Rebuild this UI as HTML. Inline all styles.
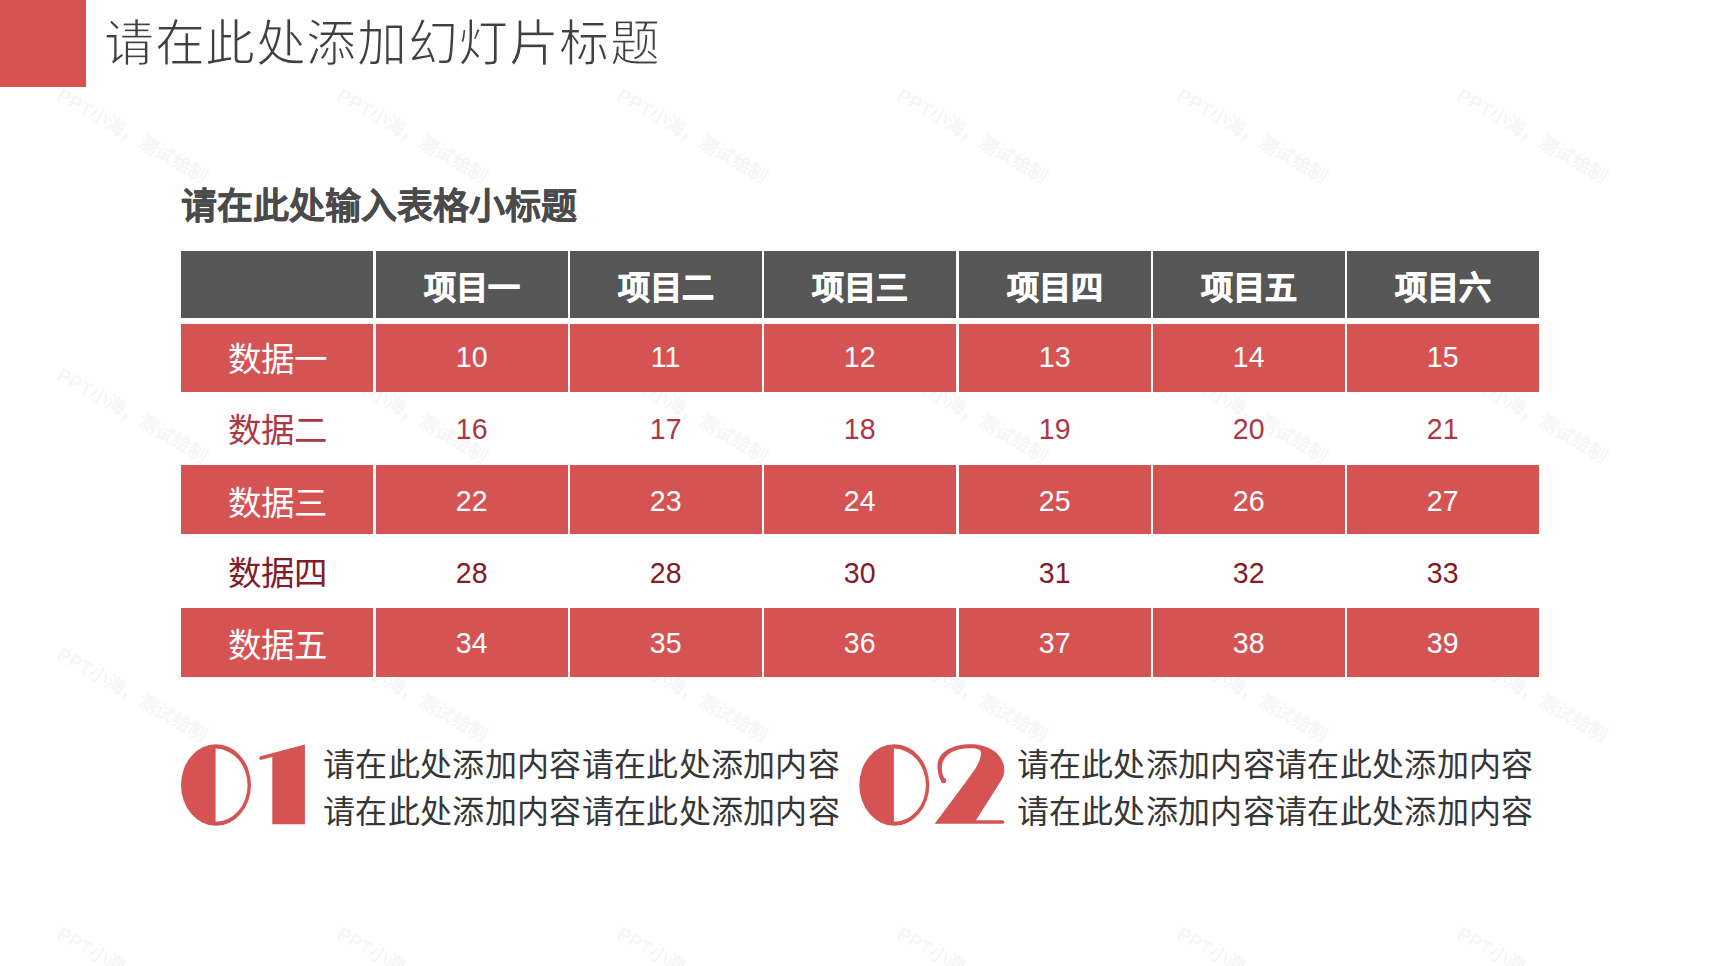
<!DOCTYPE html>
<html lang="zh-CN"><head><meta charset="utf-8">
<style>
:root { --red:#d65353; --gray:#575757; }
html,body { margin:0; padding:0; }
body { width:1720px; height:966px; position:relative; overflow:hidden; background:#fefefe; font-family:"Liberation Sans", sans-serif; }
.c { position:absolute; }
.t { position:absolute; display:flex; align-items:center; justify-content:center; white-space:nowrap; }
.hd { color:#fff; font-size:32px; font-weight:bold; -webkit-text-stroke:0.9px #fff; }
.lab { font-size:33.5px; transform:translateY(-1.5px); }
.num { font-size:30px; } .num span { display:inline-block; transform:scaleX(0.95); }
.w { color:#fff; }
.r2 { color:#ab3844; }
.r4 { color:#821c28; }
.abs { position:absolute; white-space:nowrap; line-height:1; }
</style></head><body>
<svg class="abs" style="left:0;top:0;pointer-events:none" width="1720" height="966"><g fill="rgba(0,0,0,0.055)" font-size="19" font-weight="bold" font-family="Liberation Sans, sans-serif"><text x="63.0" y="101.0" transform="rotate(30 63.0 86.0)">PPT小海，测试绘制</text><text x="343.0" y="101.0" transform="rotate(30 343.0 86.0)">PPT小海，测试绘制</text><text x="623.0" y="101.0" transform="rotate(30 623.0 86.0)">PPT小海，测试绘制</text><text x="903.0" y="101.0" transform="rotate(30 903.0 86.0)">PPT小海，测试绘制</text><text x="1183.0" y="101.0" transform="rotate(30 1183.0 86.0)">PPT小海，测试绘制</text><text x="1463.0" y="101.0" transform="rotate(30 1463.0 86.0)">PPT小海，测试绘制</text><text x="63.0" y="380.5" transform="rotate(30 63.0 365.5)">PPT小海，测试绘制</text><text x="343.0" y="380.5" transform="rotate(30 343.0 365.5)">PPT小海，测试绘制</text><text x="623.0" y="380.5" transform="rotate(30 623.0 365.5)">PPT小海，测试绘制</text><text x="903.0" y="380.5" transform="rotate(30 903.0 365.5)">PPT小海，测试绘制</text><text x="1183.0" y="380.5" transform="rotate(30 1183.0 365.5)">PPT小海，测试绘制</text><text x="1463.0" y="380.5" transform="rotate(30 1463.0 365.5)">PPT小海，测试绘制</text><text x="63.0" y="660.0" transform="rotate(30 63.0 645.0)">PPT小海，测试绘制</text><text x="343.0" y="660.0" transform="rotate(30 343.0 645.0)">PPT小海，测试绘制</text><text x="623.0" y="660.0" transform="rotate(30 623.0 645.0)">PPT小海，测试绘制</text><text x="903.0" y="660.0" transform="rotate(30 903.0 645.0)">PPT小海，测试绘制</text><text x="1183.0" y="660.0" transform="rotate(30 1183.0 645.0)">PPT小海，测试绘制</text><text x="1463.0" y="660.0" transform="rotate(30 1463.0 645.0)">PPT小海，测试绘制</text><text x="63.0" y="939.5" transform="rotate(30 63.0 924.5)">PPT小海，测试绘制</text><text x="343.0" y="939.5" transform="rotate(30 343.0 924.5)">PPT小海，测试绘制</text><text x="623.0" y="939.5" transform="rotate(30 623.0 924.5)">PPT小海，测试绘制</text><text x="903.0" y="939.5" transform="rotate(30 903.0 924.5)">PPT小海，测试绘制</text><text x="1183.0" y="939.5" transform="rotate(30 1183.0 924.5)">PPT小海，测试绘制</text><text x="1463.0" y="939.5" transform="rotate(30 1463.0 924.5)">PPT小海，测试绘制</text></g></svg>
<div class="abs" style="left:0;top:0;width:86px;height:87px;background:var(--red)"></div>
<div class="abs" id="title" style="left:104px;top:18.5px;font-size:50px;letter-spacing:0.6px;color:#404040;-webkit-text-stroke:1.2px #fefefe;">请在此处添加幻灯片标题</div>
<div class="abs" id="sub" style="left:181px;top:189px;font-size:36px;color:#4a4a4a;font-weight:bold;-webkit-text-stroke:0.25px #4a4a4a;">请在此处输入表格小标题</div>
<div class="c" style="left:181.00px;top:251.00px;width:192.10px;height:67.40px;background:var(--gray)"></div>
<div class="c" style="left:375.70px;top:251.00px;width:191.90px;height:67.40px;background:var(--gray)"></div>
<div class="c" style="left:570.20px;top:251.00px;width:191.50px;height:67.40px;background:var(--gray)"></div>
<div class="c" style="left:764.30px;top:251.00px;width:191.70px;height:67.40px;background:var(--gray)"></div>
<div class="c" style="left:958.60px;top:251.00px;width:192.00px;height:67.40px;background:var(--gray)"></div>
<div class="c" style="left:1153.20px;top:251.00px;width:191.50px;height:67.40px;background:var(--gray)"></div>
<div class="c" style="left:1347.30px;top:251.00px;width:191.90px;height:67.40px;background:var(--gray)"></div>
<div class="c" style="left:181.00px;top:324.20px;width:192.10px;height:67.50px;background:var(--red)"></div>
<div class="c" style="left:375.70px;top:324.20px;width:191.90px;height:67.50px;background:var(--red)"></div>
<div class="c" style="left:570.20px;top:324.20px;width:191.50px;height:67.50px;background:var(--red)"></div>
<div class="c" style="left:764.30px;top:324.20px;width:191.70px;height:67.50px;background:var(--red)"></div>
<div class="c" style="left:958.60px;top:324.20px;width:192.00px;height:67.50px;background:var(--red)"></div>
<div class="c" style="left:1153.20px;top:324.20px;width:191.50px;height:67.50px;background:var(--red)"></div>
<div class="c" style="left:1347.30px;top:324.20px;width:191.90px;height:67.50px;background:var(--red)"></div>
<div class="c" style="left:181.00px;top:464.80px;width:192.10px;height:69.50px;background:var(--red)"></div>
<div class="c" style="left:375.70px;top:464.80px;width:191.90px;height:69.50px;background:var(--red)"></div>
<div class="c" style="left:570.20px;top:464.80px;width:191.50px;height:69.50px;background:var(--red)"></div>
<div class="c" style="left:764.30px;top:464.80px;width:191.70px;height:69.50px;background:var(--red)"></div>
<div class="c" style="left:958.60px;top:464.80px;width:192.00px;height:69.50px;background:var(--red)"></div>
<div class="c" style="left:1153.20px;top:464.80px;width:191.50px;height:69.50px;background:var(--red)"></div>
<div class="c" style="left:1347.30px;top:464.80px;width:191.90px;height:69.50px;background:var(--red)"></div>
<div class="c" style="left:181.00px;top:607.80px;width:192.10px;height:69.50px;background:var(--red)"></div>
<div class="c" style="left:375.70px;top:607.80px;width:191.90px;height:69.50px;background:var(--red)"></div>
<div class="c" style="left:570.20px;top:607.80px;width:191.50px;height:69.50px;background:var(--red)"></div>
<div class="c" style="left:764.30px;top:607.80px;width:191.70px;height:69.50px;background:var(--red)"></div>
<div class="c" style="left:958.60px;top:607.80px;width:192.00px;height:69.50px;background:var(--red)"></div>
<div class="c" style="left:1153.20px;top:607.80px;width:191.50px;height:69.50px;background:var(--red)"></div>
<div class="c" style="left:1347.30px;top:607.80px;width:191.90px;height:69.50px;background:var(--red)"></div>
<div class="t hd" style="left:374.40px;top:251.00px;width:194.50px;height:67.40px;">项目一</div>
<div class="t hd" style="left:568.90px;top:251.00px;width:194.10px;height:67.40px;">项目二</div>
<div class="t hd" style="left:763.00px;top:251.00px;width:194.30px;height:67.40px;">项目三</div>
<div class="t hd" style="left:957.30px;top:251.00px;width:194.60px;height:67.40px;">项目四</div>
<div class="t hd" style="left:1151.90px;top:251.00px;width:194.10px;height:67.40px;">项目五</div>
<div class="t hd" style="left:1346.00px;top:251.00px;width:193.20px;height:67.40px;">项目六</div>
<div class="t lab w" style="left:181.00px;top:324.20px;width:193.40px;height:67.50px;">数据一</div>
<div class="t num w" style="left:374.40px;top:323.40px;width:194.50px;height:67.50px;"><span>10</span></div>
<div class="t num w" style="left:568.90px;top:323.40px;width:194.10px;height:67.50px;"><span>11</span></div>
<div class="t num w" style="left:763.00px;top:323.40px;width:194.30px;height:67.50px;"><span>12</span></div>
<div class="t num w" style="left:957.30px;top:323.40px;width:194.60px;height:67.50px;"><span>13</span></div>
<div class="t num w" style="left:1151.90px;top:323.40px;width:194.10px;height:67.50px;"><span>14</span></div>
<div class="t num w" style="left:1346.00px;top:323.40px;width:193.20px;height:67.50px;"><span>15</span></div>
<div class="t lab r2" style="left:181.00px;top:391.70px;width:193.40px;height:73.10px;">数据二</div>
<div class="t num r2" style="left:374.40px;top:392.70px;width:194.50px;height:73.10px;"><span>16</span></div>
<div class="t num r2" style="left:568.90px;top:392.70px;width:194.10px;height:73.10px;"><span>17</span></div>
<div class="t num r2" style="left:763.00px;top:392.70px;width:194.30px;height:73.10px;"><span>18</span></div>
<div class="t num r2" style="left:957.30px;top:392.70px;width:194.60px;height:73.10px;"><span>19</span></div>
<div class="t num r2" style="left:1151.90px;top:392.70px;width:194.10px;height:73.10px;"><span>20</span></div>
<div class="t num r2" style="left:1346.00px;top:392.70px;width:193.20px;height:73.10px;"><span>21</span></div>
<div class="t lab w" style="left:181.00px;top:466.30px;width:193.40px;height:69.50px;">数据三</div>
<div class="t num w" style="left:374.40px;top:465.80px;width:194.50px;height:69.50px;"><span>22</span></div>
<div class="t num w" style="left:568.90px;top:465.80px;width:194.10px;height:69.50px;"><span>23</span></div>
<div class="t num w" style="left:763.00px;top:465.80px;width:194.30px;height:69.50px;"><span>24</span></div>
<div class="t num w" style="left:957.30px;top:465.80px;width:194.60px;height:69.50px;"><span>25</span></div>
<div class="t num w" style="left:1151.90px;top:465.80px;width:194.10px;height:69.50px;"><span>26</span></div>
<div class="t num w" style="left:1346.00px;top:465.80px;width:193.20px;height:69.50px;"><span>27</span></div>
<div class="t lab r4" style="left:181.00px;top:534.30px;width:193.40px;height:73.50px;">数据四</div>
<div class="t num r4" style="left:374.40px;top:535.80px;width:194.50px;height:73.50px;"><span>28</span></div>
<div class="t num r4" style="left:568.90px;top:535.80px;width:194.10px;height:73.50px;"><span>28</span></div>
<div class="t num r4" style="left:763.00px;top:535.80px;width:194.30px;height:73.50px;"><span>30</span></div>
<div class="t num r4" style="left:957.30px;top:535.80px;width:194.60px;height:73.50px;"><span>31</span></div>
<div class="t num r4" style="left:1151.90px;top:535.80px;width:194.10px;height:73.50px;"><span>32</span></div>
<div class="t num r4" style="left:1346.00px;top:535.80px;width:193.20px;height:73.50px;"><span>33</span></div>
<div class="t lab w" style="left:181.00px;top:608.80px;width:193.40px;height:69.50px;">数据五</div>
<div class="t num w" style="left:374.40px;top:608.40px;width:194.50px;height:69.50px;"><span>34</span></div>
<div class="t num w" style="left:568.90px;top:608.40px;width:194.10px;height:69.50px;"><span>35</span></div>
<div class="t num w" style="left:763.00px;top:608.40px;width:194.30px;height:69.50px;"><span>36</span></div>
<div class="t num w" style="left:957.30px;top:608.40px;width:194.60px;height:69.50px;"><span>37</span></div>
<div class="t num w" style="left:1151.90px;top:608.40px;width:194.10px;height:69.50px;"><span>38</span></div>
<div class="t num w" style="left:1346.00px;top:608.40px;width:193.20px;height:69.50px;"><span>39</span></div>
<svg class="abs" style="left:0;top:0" width="1720" height="966" viewBox="0 0 1720 966">
<g fill="var(--red)">
<path fill-rule="evenodd" d="M216 744.2 A35 40.8 0 1 0 216 825.8 A35 40.8 0 1 0 216 744.2 Z M215.6 748.6 A32 36.6 0 0 1 215.6 821.8 Z"/>
<path d="M304.9 744.5 L260.5 756.3 Q258 758.2 260.6 760 L272.3 757 L272.3 824.2 L304.9 824.2 Z"/>
<path fill-rule="evenodd" d="M894.3 744.2 A35 40.8 0 1 0 894.3 825.8 A35 40.8 0 1 0 894.3 744.2 Z M893.9 748.6 A32 36.6 0 0 1 893.9 821.8 Z"/>
<path d="M941.3 781.5 C938.5 777 937.5 771 937.5 766 C937.5 752 952 744.2 970.4 744.2 C990 744.2 1004.3 755 1004.3 770 C1004.3 774.5 1003 778.5 998.3 785 L976 820.2 L1003 820.2 Q1005.8 822 1003 823.8 L934.7 823.8 L963.6 785 L975.8 768 C979 762 982 756 980.5 751 C979 748.8 975 748.2 970 748.2 C954 748.2 941.8 755 941.8 768 C941.8 773 943 777 945.8 780 Z"/>
<circle cx="943.6" cy="780.6" r="2.6"/>
</g></svg>
<div class="abs" id="b1" style="left:323px;top:742px;font-size:32px;letter-spacing:0.32px;color:#363636;line-height:46.5px;">请在此处添加内容请在此处添加内容<br>请在此处添加内容请在此处添加内容</div>
<div class="abs" id="b2" style="left:1016.5px;top:742px;font-size:32px;letter-spacing:0.32px;color:#363636;line-height:46.5px;">请在此处添加内容请在此处添加内容<br>请在此处添加内容请在此处添加内容</div>
</body></html>
